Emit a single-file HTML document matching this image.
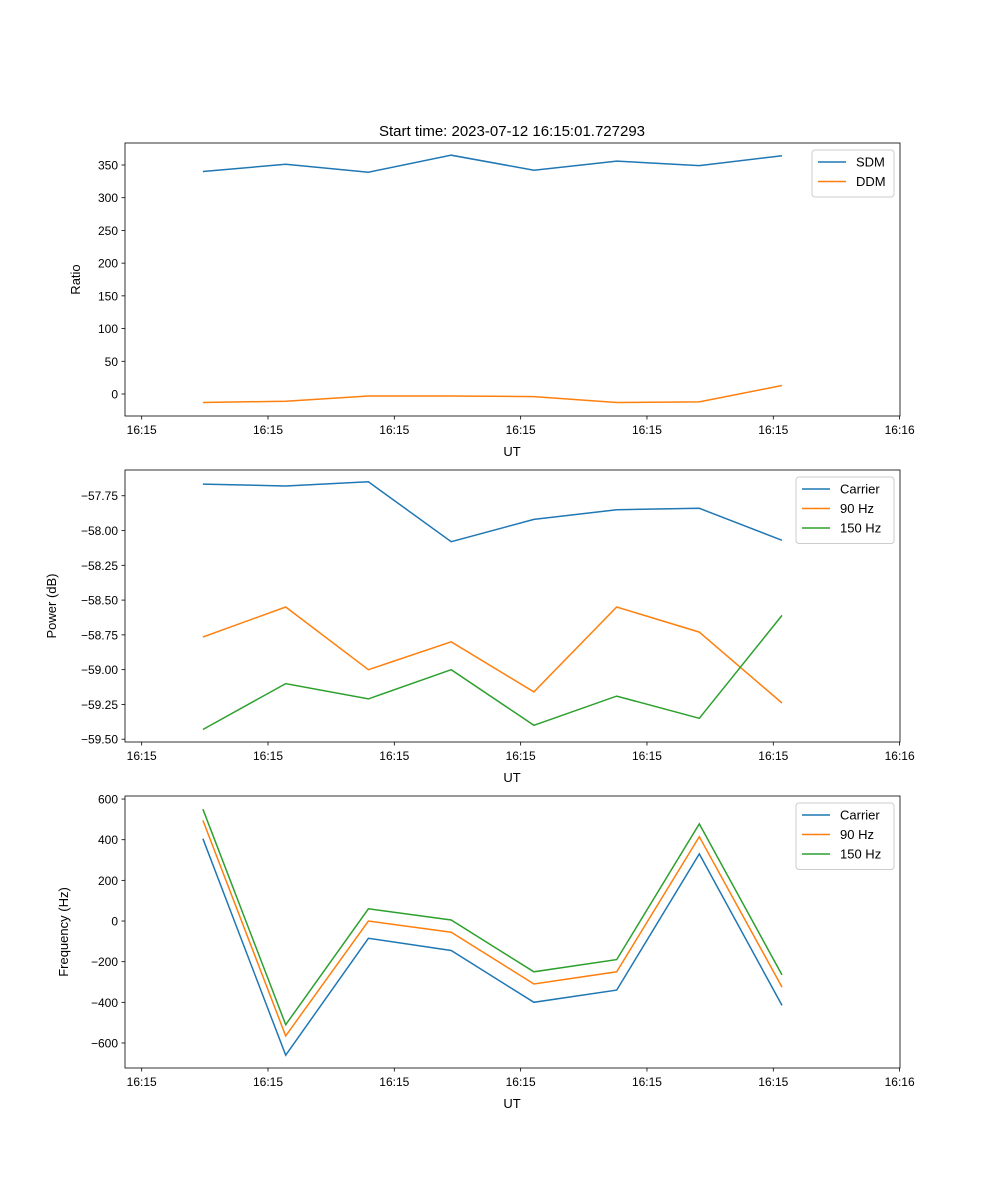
<!DOCTYPE html>
<html><head><meta charset="utf-8"><style>
html,body{margin:0;padding:0;background:#fff;}
svg{display:block;font-family:"Liberation Sans","DejaVu Sans",sans-serif;}
</style></head><body>
<svg id="fig" width="1000" height="1200" viewBox="0 0 1000 1200">
<text x="512" y="136" font-size="15" text-anchor="middle">Start time: 2023-07-12 16:15:01.727293</text>
</svg>
<script>
const times = [4.85, 11.40, 17.95, 24.50, 31.05, 37.60, 44.14, 50.69];
const xTicks = [0, 10, 20, 30, 40, 50, 60];
const xTickLabels = ["16:15","16:15","16:15","16:15","16:15","16:15","16:16"];

const sdm = [340, 351, 339, 365, 342, 356, 349, 364];
const ddm = [-13, -11, -3, -3, -4, -13, -12, 13];
const ratioTicks = [0, 50, 100, 150, 200, 250, 300, 350];

const powCarrier = [-57.666, -57.68, -57.65, -58.08, -57.92, -57.85, -57.84, -58.07];
const pow90 = [-58.765, -58.55, -59.0, -58.80, -59.16, -58.55, -58.73, -59.24];
const pow150 = [-59.43, -59.10, -59.21, -59.0, -59.40, -59.19, -59.35, -58.61];
const powTicks = [-57.75, -58.0, -58.25, -58.5, -58.75, -59.0, -59.25, -59.5];

const freqCarrier = [405, -660, -85, -145, -400, -340, 330, -415];
const freq90 = [495, -565, 0, -55, -310, -250, 415, -325];
const freq150 = [550, -510, 60, 5, -250, -190, 478, -265];
const freqTicks = [-600, -400, -200, 0, 200, 400, 600];

const NS = "http://www.w3.org/2000/svg";
const svg = document.getElementById("fig");
function mk(tag, attrs, parent) {
  const e = document.createElementNS(NS, tag);
  for (const k in attrs) e.setAttribute(k, attrs[k]);
  (parent || svg).appendChild(e);
  return e;
}
const L = 125, R = 900;
const xMin = -1.32, xMax = 60.03;
function xs(v) { return L + (v - xMin) / (xMax - xMin) * (R - L); }

function panel(name, top, bottom, yMin, yMax, yTicks, fmt, ylabel, ylabelX, series, legendW) {
  const g = mk("g", {});
  
  
  const ys = v => bottom - (v - yMin) / (yMax - yMin) * (bottom - top);
  series.forEach(s => {
    const pts = s.vals.map((v, i) => xs(times[i]).toFixed(1) + "," + ys(v).toFixed(1)).join(" ");
    const pl = mk("polyline", {points: pts, fill: "none", stroke: s.color, "stroke-width": 1.5}, g);
    
    
  });
  const fr = mk("rect", {x: L, y: top, width: R - L, height: bottom - top, fill: "none", stroke: "#000", "stroke-width": 0.8}, g);
  
  
  xTicks.forEach((t, i) => {
    const x = xs(t);
    mk("line", {x1: x, x2: x, y1: bottom, y2: bottom + 3.5, stroke: "#000", "stroke-width": 0.8}, g);
    const tx = mk("text", {x: x, y: bottom + 18, "font-size": 12, "text-anchor": "middle"}, g);
    tx.textContent = xTickLabels[i];
    
    
  });
  const xl = mk("text", {x: 512, y: bottom + 40, "font-size": 13, "text-anchor": "middle"}, g);
  xl.textContent = "UT";
  
  
  yTicks.forEach(t => {
    const y = ys(t);
    mk("line", {x1: L - 3.5, x2: L, y1: y, y2: y, stroke: "#000", "stroke-width": 0.8}, g);
    const tx = mk("text", {x: L - 7, y: y + 4.5, "font-size": 12, "text-anchor": "end"}, g);
    tx.textContent = fmt(t);
    
    
  });
  const cy = (top + bottom) / 2;
  const yl = mk("text", {x: ylabelX, y: cy, "font-size": 13, "text-anchor": "middle", transform: "rotate(-90 " + ylabelX + " " + cy + ")"}, g);
  yl.textContent = ylabel;
  
  
  const lg = mk("g", {}, g);
  
  
  const lx = R - 6 - legendW, ly = top + 7;
  mk("rect", {x: lx, y: ly, width: legendW, height: 8 + series.length * 19.5, rx: 3, fill: "#fff", stroke: "#ccc", "stroke-width": 1}, lg);
  series.forEach((s, i) => {
    const yy = ly + 12 + i * 19.5;
    mk("line", {x1: lx + 6, x2: lx + 34, y1: yy, y2: yy, stroke: s.color, "stroke-width": 1.5}, lg);
    const t = mk("text", {x: lx + 44, y: yy + 4.5, "font-size": 13}, lg);
    t.textContent = s.label;
    
    
  });
}
const fmtInt = v => String(v).replace("-", "\u2212");
const fmt2 = v => v.toFixed(2).replace("-", "\u2212");
panel("ratio-panel", 143, 416, -33.6, 383.6, ratioTicks, fmtInt, "Ratio", 80,
  [{id:"sdm", label:"SDM", color:"#1f77b4", vals:sdm}, {id:"ddm", label:"DDM", color:"#ff7f0e", vals:ddm}], 82);
panel("power-panel", 470, 742, -59.52, -57.565, powTicks, fmt2, "Power (dB)", 56,
  [{id:"carrier", label:"Carrier", color:"#1f77b4", vals:powCarrier}, {id:"90hz", label:"90 Hz", color:"#ff7f0e", vals:pow90}, {id:"150hz", label:"150 Hz", color:"#2ca02c", vals:pow150}], 98);
panel("frequency-panel", 796, 1068, -723, 615, freqTicks, fmtInt, "Frequency (Hz)", 68,
  [{id:"carrier", label:"Carrier", color:"#1f77b4", vals:freqCarrier}, {id:"90hz", label:"90 Hz", color:"#ff7f0e", vals:freq90}, {id:"150hz", label:"150 Hz", color:"#2ca02c", vals:freq150}], 98);
</script>
</body></html>
